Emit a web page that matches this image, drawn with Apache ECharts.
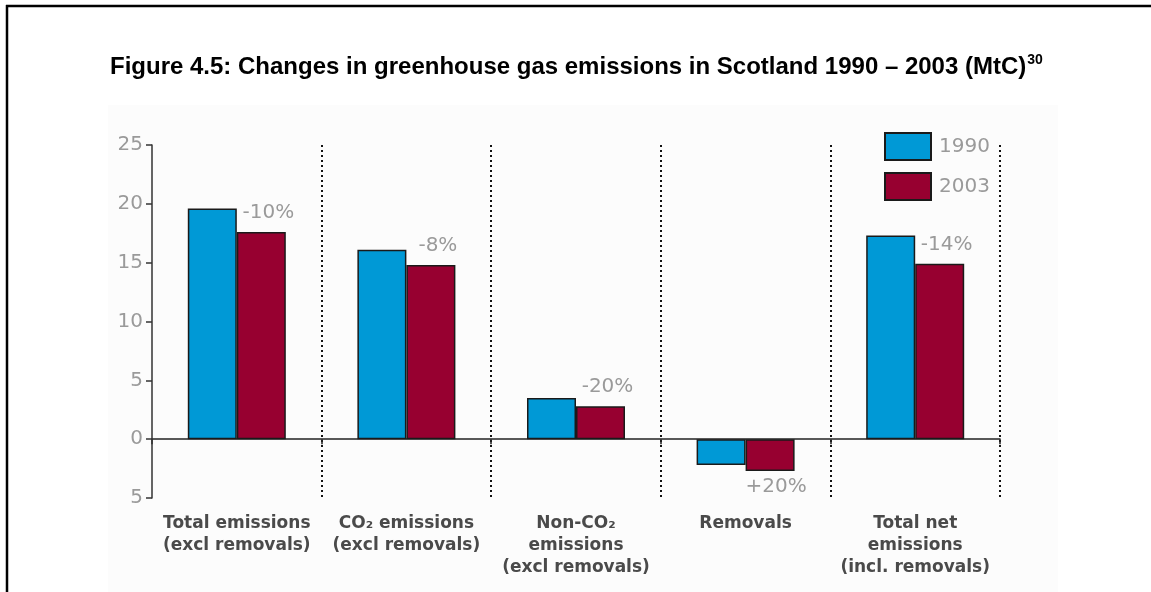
<!DOCTYPE html>
<html>
<head>
<meta charset="utf-8">
<script src="https://cdn.jsdelivr.net/npm/echarts@6/dist/echarts.min.js"></script>
<style>
  html, body { margin: 0; padding: 0; background: #ffffff; }
  #chart { width: 1151px; height: 592px; }
</style>
</head>
<body>
<div id="chart"></div>
<script>
// Emissions by source, MtC
const categories = [
  'Total emissions\n(excl removals)',
  'CO₂ emissions\n(excl removals)',
  'Non-CO₂\nemissions\n(excl removals)',
  'Removals',
  'Total net\nemissions\n(incl. removals)'
];
const years = ['1990', '2003'];
const values1990 = [19.6, 16.1, 3.5, -2.2, 17.3];
const values2003 = [17.6, 14.8, 2.8, -2.7, 14.9];
const changeLabels = ['-10%', '-8%', '-20%', '+20%', '-14%'];
const yTicks = { min: -5, max: 25, interval: 5 };

const COLOR_1990 = '#0099d6';
const COLOR_2003 = '#970030';
const TEXT_GREY = '#9a9a9a';
const FONT = 'DejaVu Sans';

// 2003 bars carry the percentage change; negative bars get it underneath
const data2003 = values2003.map((v, i) => ({
  value: v,
  label: v >= 0
    ? { show: true, position: 'top', distance: 9, offset: [7, 0], formatter: changeLabels[i] }
    : { show: true, position: 'bottom', distance: 6, offset: [6, 0], formatter: changeLabels[i] }
}));

const chart = echarts.init(document.getElementById('chart'));
chart.setOption({
  animation: false,
  backgroundColor: '#ffffff',
  graphic: [
    // soft panel behind the plot
    { type: 'rect', left: 108, top: 105, shape: { width: 950, height: 487 }, style: { fill: '#fcfcfc' }, z: -10 },
    // frame
    { type: 'line', shape: { x1: 6, y1: 6, x2: 1151, y2: 6 }, style: { stroke: '#000', lineWidth: 2.5 } },
    { type: 'line', shape: { x1: 7, y1: 5, x2: 7, y2: 592 }, style: { stroke: '#000', lineWidth: 2.5 } },
    {
      type: 'text', left: 110, top: 53,
      style: {
        text: '{t|Figure 4.5: Changes in greenhouse gas emissions in Scotland 1990 – 2003 (MtC)}{s|30}',
        rich: {
          t: { fontFamily: 'Liberation Sans', fontWeight: 'bold', fontSize: 24, fill: '#000' },
          s: { fontFamily: 'Liberation Sans', fontWeight: 'bold', fontSize: 14, fill: '#000', padding: [0, 0, 14, 1] }
        }
      }
    }
  ],
  legend: {
    orient: 'vertical',
    left: 879,
    top: 127,
    itemWidth: 46,
    itemHeight: 27,
    itemGap: 11,
    icon: 'rect',
    data: years,
    textStyle: { fontFamily: FONT, fontSize: 20, color: TEXT_GREY, padding: [0, 0, 0, 3] }
  },
  grid: { left: 152, right: 151, top: 145, bottom: 94, containLabel: false, outerBoundsMode: 'none' },
  xAxis: {
    type: 'category',
    data: categories,
    boundaryGap: true,
    axisLine: { onZero: true, lineStyle: { color: '#222', width: 1.5 } },
    axisTick: { show: true, length: 5, inside: false, lineStyle: { color: '#222', width: 1.5 } },
    axisLabel: {
      margin: 15,
      interval: 0,
      fontFamily: FONT,
      fontWeight: 'bold',
      fontSize: 17,
      lineHeight: 22,
      color: '#4a4a4a',
      verticalAlign: 'top'
    },
    // dotted separators between categories, skipping the one under the y axis
    splitLine: {
      show: true,
      interval: (index) => index !== 0,
      lineStyle: { color: '#111', width: 2, type: [2, 3] }
    }
  },
  yAxis: {
    type: 'value',
    z: 5,
    min: yTicks.min,
    max: yTicks.max,
    interval: yTicks.interval,
    axisLine: { show: true, lineStyle: { color: '#333', width: 1.5 } },
    axisTick: { show: true, length: 6, lineStyle: { color: '#333', width: 1.5 } },
    axisLabel: {
      margin: 9,
      fontFamily: FONT,
      fontSize: 20,
      color: TEXT_GREY,
      formatter: v => String(Math.abs(v))
    },
    splitLine: { show: false }
  },
  series: [
    {
      name: years[0],
      type: 'bar',
      data: values1990,
      barWidth: 49,
      barGap: '0%',
      itemStyle: { color: COLOR_1990, borderColor: '#1a1a1a', borderWidth: 1.5 }
    },
    {
      name: years[1],
      type: 'bar',
      data: data2003,
      barWidth: 49,
      barGap: '0%',
      itemStyle: { color: COLOR_2003, borderColor: '#1a1a1a', borderWidth: 1.5 },
      label: { fontFamily: FONT, fontSize: 20, color: TEXT_GREY }
    }
  ]
});
</script>
</body>
</html>
